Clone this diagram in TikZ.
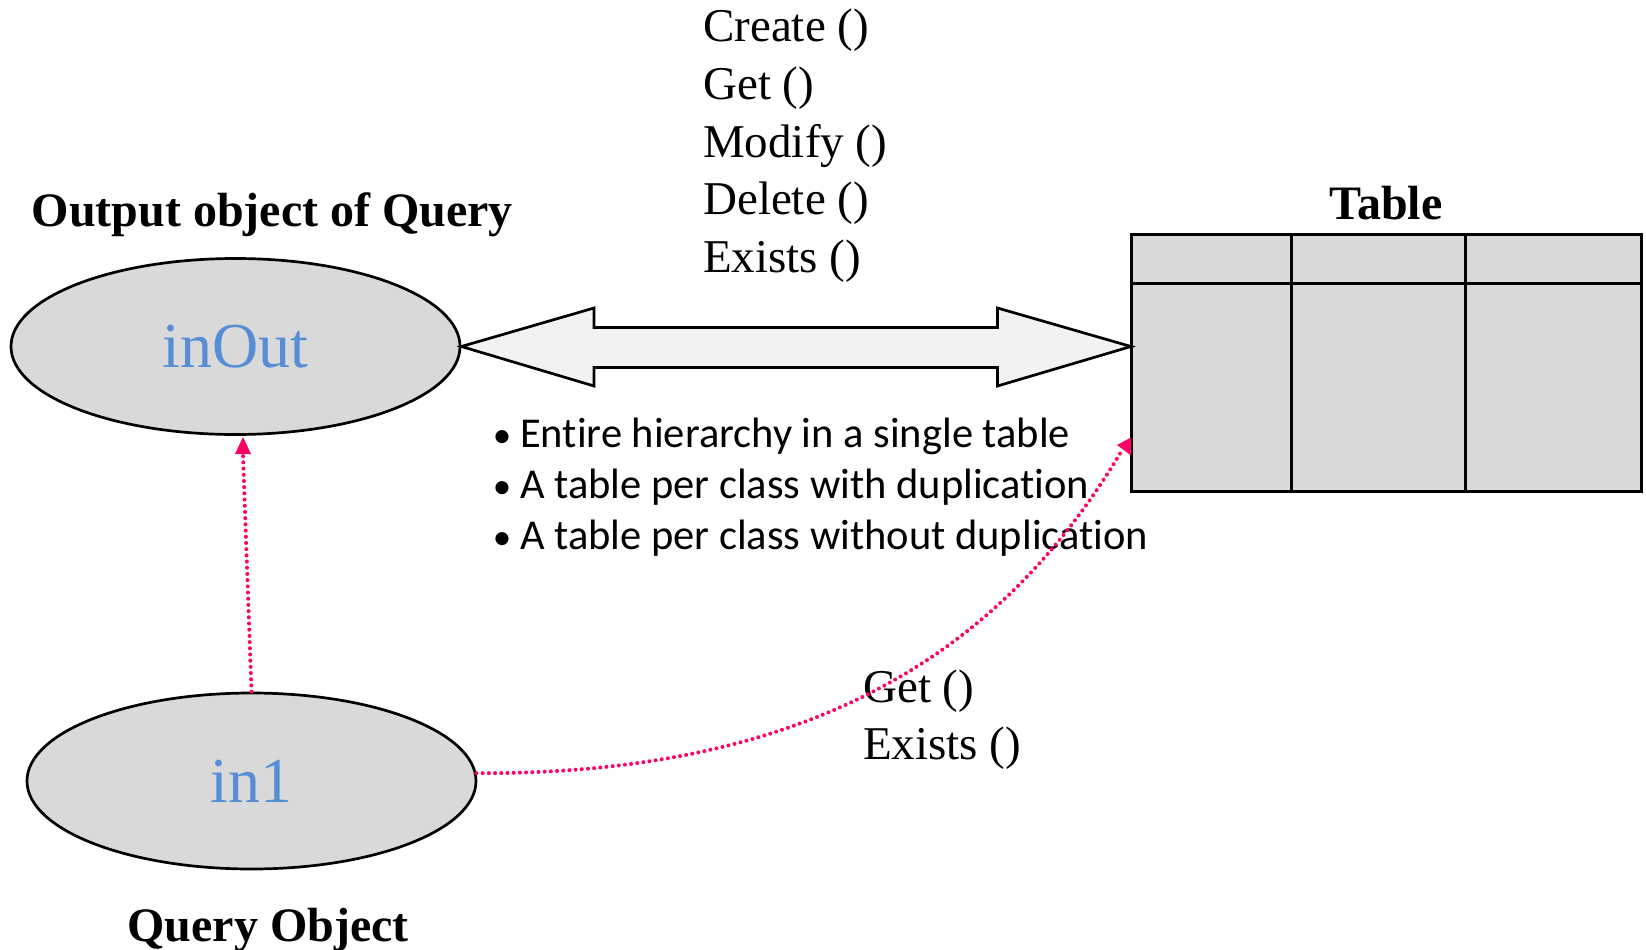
\documentclass[tikz,border=0pt]{standalone}
\usepackage{fontspec}
\setmainfont{Liberation Serif}
\newfontfamily\calibrifont[Ligatures=NoCommon]{Carlito}
\usetikzlibrary{shapes.geometric,arrows.meta}
\definecolor{objgray}{HTML}{D9D9D9}
\definecolor{arrowgray}{HTML}{F2F2F2}
\definecolor{objblue}{HTML}{558ED5}
\definecolor{linkpink}{HTML}{FF0066}
\tikzset{
  objell/.style={ellipse, draw=black, line width=2.7pt, fill=objgray, inner sep=0pt,
    minimum width=449pt, minimum height=176pt, text=objblue,
    font=\fontsize{64}{70}\selectfont},
  boldlabel/.style={font=\fontsize{48}{56}\selectfont\bfseries, inner sep=0pt},
  methodlabel/.style={font=\fontsize{47}{56}\selectfont, inner sep=0pt, anchor=base west},
  bulletlabel/.style={font=\fontsize{42.5}{48}\selectfont\calibrifont, inner sep=0pt, anchor=base west},
  bulletdot/.style={font=\fontsize{37}{44}\selectfont\calibrifont, inner sep=0pt, anchor=base},
  pinkdots/.style={draw=linkpink, line width=4pt, line cap=round, dash pattern=on 0pt off 6.2pt},
  tablebox/.style={draw=black, line width=3pt, fill=objgray, inner sep=0pt,
    minimum width=510pt, minimum height=257pt},
}
\begin{document}
\begin{tikzpicture}[x=1pt,y=-1pt]
\useasboundingbox (0,0) rectangle (1646,950);

% labels
\node[boldlabel, anchor=base west] (outlbl) at (31.5,226) {Output object of Query};
\node[boldlabel, anchor=base] (tbllbl) at (1386,219) {Table};
\node[boldlabel, anchor=base] (qlbl) at (268,941) {Query Object};

% methods top
\node[methodlabel] (m1) at (703,42) {Create ()};
\node[methodlabel] (m2) at (703,99.6) {Get ()};
\node[methodlabel] (m3) at (703,157.2) {Modify ()};
\node[methodlabel] (m4) at (703,214.8) {Delete ()};
\node[methodlabel] (m5) at (703,272.4) {Exists ()};

% object ellipses
\node[objell] (inOut) at (235.5,346.5) {inOut};
\node[objell] (in1) at (251.5,781) {in1};

% table
\node[tablebox] (tbl) at (1386,362.5) {};
\draw[line width=3pt] (1131,283) -- (1641,283);
\draw[line width=3pt] (1291,234) -- (1291,491);
\draw[line width=3pt] (1465,234) -- (1465,491);

% double arrow
\coordinate (rtip) at (1131,346.5);
\draw[line width=2.7pt, fill=arrowgray, line join=miter]
  (inOut.east) -- (594,308) -- (594,327.5) -- (997.5,327.5) -- (997.5,308)
  -- (rtip) -- (997.5,386) -- (997.5,367.5) -- (594,367.5) -- (594,386) -- cycle;

% bullets
\node[bulletdot] (b1) at (502,447) {•};
\node[bulletdot] (b2) at (502,498) {•};
\node[bulletdot] (b3) at (502,549) {•};
\node[bulletlabel] (t1) at (520,447) {Entire hierarchy in a single table};
\node[bulletlabel] (t2) at (520,498) {A table per class with duplication};
\node[bulletlabel] (t3) at (520,549) {A table per class without duplication};

% lower methods
\node[methodlabel] (g1) at (863,702) {Get ()};
\node[methodlabel] (g2) at (863,759.6) {Exists ()};

% pink connectors
\coordinate (upend) at (243,437);
\draw[pinkdots] (in1.north) -- (243,455);
\fill[linkpink] (upend) -- (235,454) -- (251,454) -- cycle;

\coordinate (curveend) at (1121,452);
\draw[pinkdots] (in1.2) .. controls (850,775) and (1020,620) .. (curveend);
\fill[linkpink] (1117,445) -- (1131,437.5) -- (1131,455.5) -- cycle;
\end{tikzpicture}
\end{document}
